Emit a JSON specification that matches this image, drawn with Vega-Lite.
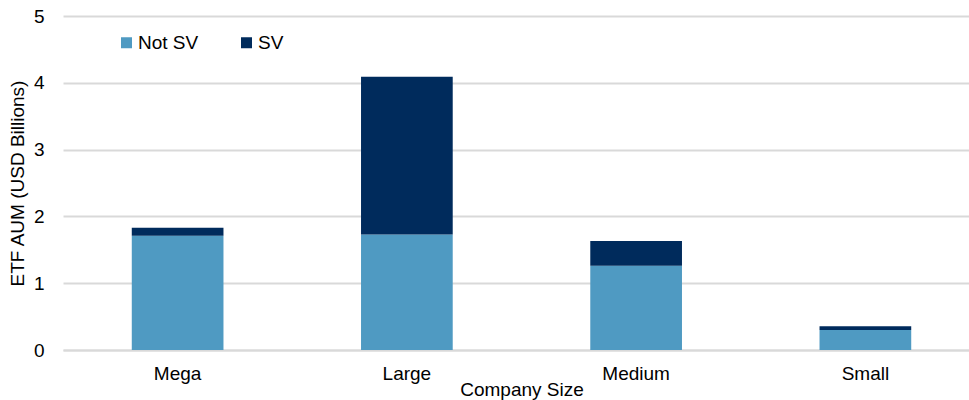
{
  "$schema": "https://vega.github.io/schema/vega-lite/v6.json",
  "autosize": {"type": "none"},
  "padding": {"left": 63, "top": 16, "right": 0, "bottom": 50},
  "width": 917,
  "height": 334,
  "background": "white",
  "view": {"stroke": null},
  "title": {
    "text": "ETF AUM by Company Size",
    "font": "Liberation Sans",
    "fontSize": 28,
    "fontWeight": "bold",
    "color": "#000000",
    "baseline": "bottom",
    "offset": -20,
    "anchor": "middle",
    "dx": -111
  },
  "data": {
    "values": [
      {"size": "Mega", "type": "Not SV", "aum": 1.71},
      {"size": "Mega", "type": "SV", "aum": 0.12},
      {"size": "Large", "type": "Not SV", "aum": 1.73},
      {"size": "Large", "type": "SV", "aum": 2.36},
      {"size": "Medium", "type": "Not SV", "aum": 1.26},
      {"size": "Medium", "type": "SV", "aum": 0.37},
      {"size": "Small", "type": "Not SV", "aum": 0.30},
      {"size": "Small", "type": "SV", "aum": 0.055}
    ]
  },
  "mark": {"type": "bar"},
  "encoding": {
    "x": {
      "field": "size",
      "type": "nominal",
      "sort": ["Mega", "Large", "Medium", "Small"],
      "scale": {"paddingInner": 0.6, "paddingOuter": 0.3},
      "axis": {
        "title": "Company Size",
        "labelAngle": 0,
        "labelFont": "Liberation Sans",
        "labelFontSize": 19,
        "labelColor": "#000000",
        "labelPadding": 14,
        "titleFont": "Liberation Sans",
        "titleFontSize": 19,
        "titleFontWeight": "normal",
        "titleColor": "#000000",
        "titlePadding": -3,
        "ticks": false,
        "domainColor": "#d9d9d9",
        "domainWidth": 2
      }
    },
    "y": {
      "field": "aum",
      "type": "quantitative",
      "stack": "zero",
      "scale": {"domain": [0, 5], "nice": false},
      "axis": {
        "title": "ETF AUM (USD Billions)",
        "values": [0, 1, 2, 3, 4, 5],
        "labelFont": "Liberation Sans",
        "labelFontSize": 19,
        "labelColor": "#000000",
        "labelPadding": 19,
        "titleFont": "Liberation Sans",
        "titleFontSize": 19,
        "titleFontWeight": "normal",
        "titleColor": "#000000",
        "titlePadding": 6,
        "ticks": false,
        "domain": false,
        "gridColor": "#d9d9d9",
        "gridWidth": 2
      }
    },
    "order": {"field": "type", "sort": "ascending"},
    "color": {
      "field": "type",
      "type": "nominal",
      "scale": {"domain": ["Not SV", "SV"], "range": ["#4F9AC2", "#002B5C"]},
      "legend": {
        "title": null,
        "orient": "none",
        "legendX": 54,
        "legendY": 17,
        "direction": "horizontal",
        "columns": 2,
        "symbolType": "square",
        "symbolSize": 121,
        "symbolStrokeWidth": 0,
        "symbolOffset": 0,
        "labelFont": "Liberation Sans",
        "labelFontSize": 19,
        "labelColor": "#000000",
        "labelOffset": 2,
        "columnPadding": 38
      }
    }
  }
}
